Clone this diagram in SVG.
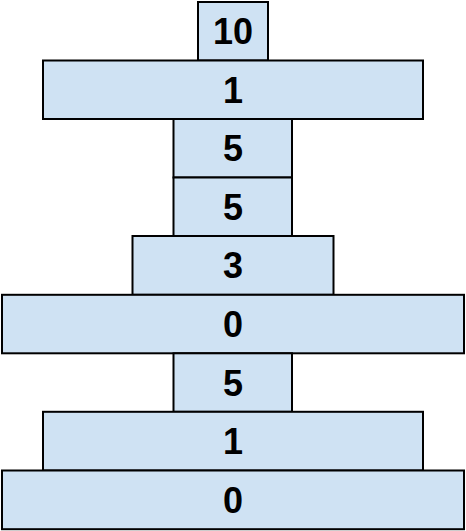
<svg xmlns="http://www.w3.org/2000/svg" width="466" height="531" viewBox="0 0 466 531">
<style>
rect{fill:#cfe2f3;stroke:#000;stroke-width:2}
text{font-family:"Liberation Sans",Arial,sans-serif;font-weight:bold;font-size:36px;text-anchor:middle;fill:#000}
</style>
<rect width="466" height="531" fill="#fff" style="stroke:none;fill:#fff"/>
<g id="n1"><rect x="198" y="2" width="70" height="58.5"/><text x="233" y="44.2">10</text></g>
<g id="n2"><rect x="43" y="60.5" width="380" height="58.5"/><text x="233" y="102.8">1</text></g>
<g id="n3"><rect x="173.5" y="119" width="118.5" height="58.5"/><text x="233" y="161.3">5</text></g>
<g id="n4"><rect x="173.5" y="177.5" width="118.5" height="58.5"/><text x="233" y="219.8">5</text></g>
<g id="n5"><rect x="132.5" y="236" width="201" height="58.8"/><text x="233" y="278.4">3</text></g>
<g id="n6"><rect x="2" y="294.8" width="462" height="58.5"/><text x="233" y="337">0</text></g>
<g id="n7"><rect x="173.5" y="353.3" width="118.5" height="58.5"/><text x="233" y="395.6">5</text></g>
<g id="n8"><rect x="43" y="411.8" width="380" height="58.7"/><text x="233" y="454.2">1</text></g>
<g id="n9"><rect x="2" y="470.5" width="462" height="58.7"/><text x="233" y="512.9">0</text></g>
<g id="connectors"/>
</svg>
